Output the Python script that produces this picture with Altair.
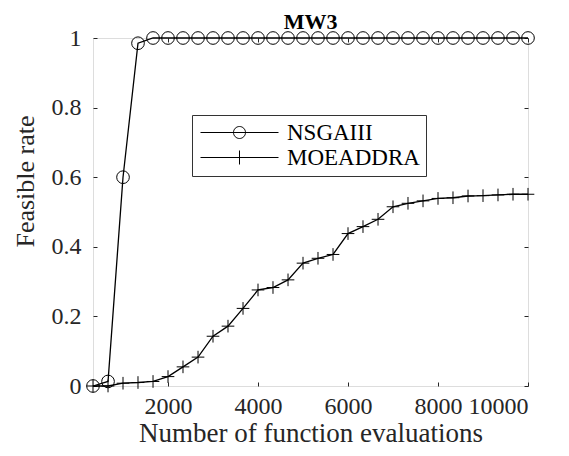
import altair as alt
import pandas as pd

# ---- data ----
evaluations = [333, 667, 1000, 1333, 1667, 2000, 2333, 2667, 3000, 3333,
               3667, 4000, 4333, 4667, 5000, 5333, 5667, 6000, 6333, 6667,
               7000, 7333, 7667, 8000, 8333, 8667, 9000, 9333, 9667, 10000]
nsgaiii = [0.0, 0.013, 0.6, 0.985, 1.0, 1.0, 1.0, 1.0, 1.0, 1.0,
           1.0, 1.0, 1.0, 1.0, 1.0, 1.0, 1.0, 1.0, 1.0, 1.0,
           1.0, 1.0, 1.0, 1.0, 1.0, 1.0, 1.0, 1.0, 1.0, 1.0]
moeaddra = [0.0, 0.0, 0.008, 0.01, 0.013, 0.027, 0.055, 0.083, 0.143, 0.172,
            0.223, 0.276, 0.283, 0.305, 0.353, 0.367, 0.378, 0.438, 0.458, 0.479,
            0.515, 0.525, 0.532, 0.539, 0.541, 0.546, 0.547, 0.549, 0.551, 0.551]
series_names = ["NSGAIII", "MOEADDRA"]
x_ticks = [2000, 4000, 6000, 8000, 10000]
y_ticks = [0, 0.2, 0.4, 0.6, 0.8, 1]

rows = []
for name, vals in zip(series_names, [nsgaiii, moeaddra]):
    for e, v in zip(evaluations, vals):
        rows.append({"series": name, "evals": e, "rate": v})
df = pd.DataFrame(rows)

FONT = "'Liberation Serif', 'Times New Roman', Tinos, 'DejaVu Serif', serif"
INK = "#262626"

# marker shapes (unit paths) and legend line+marker shapes
plus_path = "M -1 0 L 1 0 M 0 -1 L 0 1"
leg_circle = "M -1.8 0 L 13.8 0 M 7.2 0 A 1.2 1.2 0 1 1 4.8 0 A 1.2 1.2 0 1 1 7.2 0"
leg_plus = "M -1.8 0 L 13.8 0 M 6.0 -1.4 L 6.0 1.4"

x_scale = alt.Scale(domain=[333, 10000], nice=False, zero=False)
y_scale = alt.Scale(domain=[0, 1], nice=False)

base = alt.Chart(df)

lines = base.mark_line(color="black", strokeWidth=1.3).encode(
    x=alt.X("evals:Q", scale=x_scale,
            axis=alt.Axis(orient="bottom", values=x_ticks, format="d", offset=-4,
                          tickSize=4, tickColor=INK, domain=False, grid=False,
                          labelFont=FONT, labelFontSize=24, labelColor=INK,
                          labelPadding=8, title="Number of function evaluations",
                          titleFont=FONT, titleFontSize=27, titleFontWeight="normal",
                          titleColor=INK, titlePadding=2)),
    y=alt.Y("rate:Q", scale=y_scale,
            axis=alt.Axis(orient="left", values=y_ticks, format=".1~f", offset=-4,
                          tickSize=4, tickColor=INK, domain=False, grid=False,
                          labelFont=FONT, labelFontSize=24, labelColor=INK,
                          labelPadding=12, title="Feasible rate",
                          titleFont=FONT, titleFontSize=26, titleFontWeight="normal",
                          titleColor=INK, titleBaseline="middle",
                          titleX=-72, titleY=143)),
    detail="series:N",
    order="evals:Q",
)

points = base.mark_point(filled=False, color="black", strokeWidth=1, size=160,
                         opacity=1).encode(
    x=alt.X("evals:Q", scale=x_scale,
            axis=alt.Axis(orient="top", values=x_ticks, offset=-4, tickSize=4,
                          tickColor=INK, domain=False, grid=False, labels=False,
                          title=None)),
    y=alt.Y("rate:Q", scale=y_scale,
            axis=alt.Axis(orient="right", values=y_ticks, offset=-4, tickSize=4,
                          tickColor=INK, domain=False, grid=False, labels=False,
                          title=None)),
    shape=alt.Shape("series:N",
                    scale=alt.Scale(domain=series_names, range=["circle", plus_path]),
                    legend=None),
)

legend_layer = base.mark_point(filled=False, color="black", strokeWidth=1, size=100,
                               opacity=0).encode(
    x=alt.X("evals:Q", scale=x_scale, axis=None),
    y=alt.Y("rate:Q", scale=y_scale, axis=None),
    shape=alt.Shape("series:N",
                    scale=alt.Scale(domain=series_names, range=[leg_circle, leg_plus]),
                    legend=alt.Legend(title=None, orient="none", legendX=99, legendY=77,
                                      direction="vertical", symbolSize=100,
                                      symbolStrokeWidth=1, symbolStrokeColor="black",
                                      symbolFillColor="transparent", symbolOpacity=1,
                                      labelFont=FONT, labelFontSize=23, labelColor="black",
                                      labelOffset=66, padding=6, rowPadding=1,
                                      strokeColor="#333333", fillColor="white",
                                      labelLimit=300)),
)

chart = (
    alt.layer(lines, points, legend_layer)
    .resolve_scale(shape="independent")
    .resolve_axis(x="independent", y="independent")
    .properties(
        width=435, height=348,
        title=alt.Title("MW3", font=FONT, fontSize=22, fontWeight="bold",
                        color="black", anchor="middle", offset=-8),
        padding={"left": 85, "top": 30, "right": 32, "bottom": 62},
        autosize=alt.AutoSizeParams(type="none"),
    )
    .configure_view(stroke=INK, strokeWidth=1)
    .configure(background="white")
)

chart.save("out.html", embed_options={"renderer": "svg", "actions": False})
